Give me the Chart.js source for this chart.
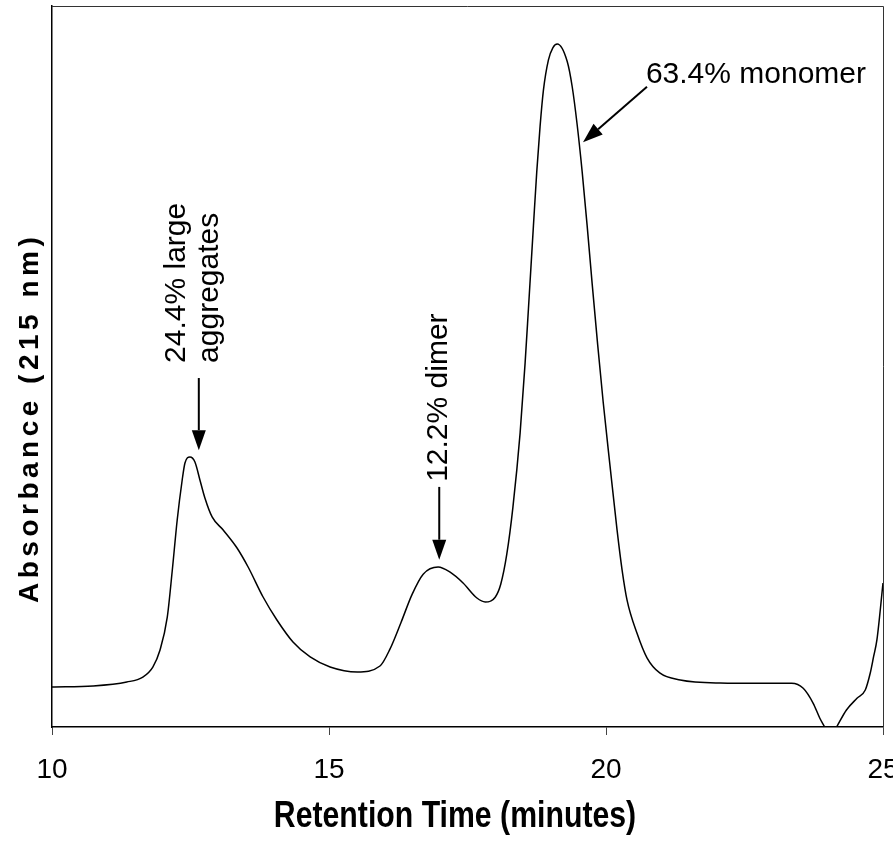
<!DOCTYPE html>
<html>
<head>
<meta charset="utf-8">
<title>SEC chromatogram</title>
<script src="https://cdn.jsdelivr.net/npm/chart.js@4.4.0/dist/chart.umd.min.js"></script>
<style>
  html, body { margin: 0; padding: 0; background: #fff; }
  canvas { display: block; }
</style>
</head>
<body>
<canvas id="chromatogram" width="893" height="849"></canvas>
<script>
// ---------------------------------------------------------------------------
// data (absorbance in arbitrary units, 0..100 = plot height)
// ---------------------------------------------------------------------------
const retentionTime = [
  10.00, 10.74, 11.35, 11.64, 11.82, 11.95, 12.08, 12.17, 12.26, 12.35,
  12.40, 12.49, 12.58, 12.67, 12.76, 12.89, 13.09, 13.34, 13.54, 13.81,
  14.06, 14.35, 14.66, 15.02, 15.51, 15.92, 16.10, 16.30, 16.50, 16.70,
  16.97, 17.18, 17.42, 17.67, 17.82, 18.00, 18.10, 18.21, 18.32, 18.45,
  18.54, 18.60, 18.69, 18.75, 18.81, 18.87, 18.96, 19.04, 19.12, 19.30,
  19.39, 19.48, 19.57, 19.66, 19.75, 19.85, 19.95, 20.07, 20.20, 20.29,
  20.38, 20.56, 20.74, 20.97, 21.34, 22.06, 22.78, 23.35, 23.56, 23.74,
  23.86, 23.95, 24.05, 24.16, 24.34, 24.53, 24.68, 24.77, 24.83, 24.89,
  25.00
];
const absorbance = [
  5.55, 5.69, 6.24, 6.93, 8.32, 10.68, 15.20, 21.64, 28.71, 34.26,
  36.62, 37.45, 36.75, 34.26, 31.76, 29.13, 27.32, 24.83, 22.19, 18.03,
  14.84, 11.79, 9.71, 8.32, 7.63, 8.46, 10.80, 14.50, 18.40, 21.20,
  22.19, 21.50, 19.97, 17.89, 17.34, 18.00, 19.80, 24.00, 30.50, 40.80,
  50.50, 58.00, 69.50, 77.00, 83.30, 88.30, 92.50, 94.20, 94.73, 92.30,
  88.80, 83.50, 77.00, 69.50, 61.50, 53.00, 45.00, 36.40, 27.30, 21.80,
  17.60, 13.00, 9.60, 7.50, 6.52, 6.10, 6.06, 6.06, 5.37, 3.29,
  1.21, -0.04, -1.50, -0.04, 2.36, 3.98, 5.13, 7.49, 9.75, 12.07,
  19.97
];
const xTicks = [10, 15, 20, 25];
const peakNotes = [
  ['24.4% large', 'aggregates'],
  ['12.2% dimer'],
  ['63.4% monomer']
];
const xTitle = 'Retention Time (minutes)';
const yTitle = 'Absorbance (215 nm)';

// ---------------------------------------------------------------------------
// helpers
// ---------------------------------------------------------------------------
function fontAvailable(name) {
  const c = document.createElement('canvas').getContext('2d');
  const s = 'mmmmmwwwiiilll0123456789';
  c.font = '40px monospace';
  const a = c.measureText(s).width;
  c.font = '40px "' + name + '", monospace';
  return c.measureText(s).width !== a;
}

const SANS = '"Liberation Sans", Arial, Helvetica, sans-serif';
const NARROW = fontAvailable('Liberation Sans Narrow')
  ? '"Liberation Sans Narrow", ' + SANS
  : SANS;

// arrows + rotated peak labels, anchored in data coordinates
const annotatePlugin = {
  id: 'annotate',
  afterDatasetsDraw(chart, args, opts) {
    const { ctx, scales: { x, y } } = chart;
    ctx.save();
    ctx.fillStyle = '#000';
    ctx.strokeStyle = '#000';

    opts.arrows.forEach(a => {
      const x0 = x.getPixelForValue(a.from[0]), y0 = y.getPixelForValue(a.from[1]);
      const x1 = x.getPixelForValue(a.to[0]), y1 = y.getPixelForValue(a.to[1]);
      const ang = Math.atan2(y1 - y0, x1 - x0);
      const c = Math.cos(ang), s = Math.sin(ang);
      const bx = x1 - opts.headLength * c, by = y1 - opts.headLength * s;
      ctx.lineWidth = 2;
      ctx.beginPath();
      ctx.moveTo(x0, y0);
      ctx.lineTo(bx, by);
      ctx.stroke();
      ctx.beginPath();
      ctx.moveTo(x1, y1);
      ctx.lineTo(bx + opts.headHalf * s, by - opts.headHalf * c);
      ctx.lineTo(bx - opts.headHalf * s, by + opts.headHalf * c);
      ctx.closePath();
      ctx.fill();
    });

    ctx.font = opts.fontSize + 'px ' + SANS;
    ctx.textAlign = 'left';
    ctx.textBaseline = 'alphabetic';
    opts.labels.forEach((l, i) => {
      ctx.save();
      ctx.translate(x.getPixelForValue(l.at[0]), y.getPixelForValue(l.at[1]));
      ctx.rotate(l.rotation * Math.PI / 180);
      peakNotes[i].forEach((t, k) => ctx.fillText(t, 0, k * opts.lineGap));
      ctx.restore();
    });
    ctx.restore();
  }
};

// top/right frame lines and the two axis titles
const framePlugin = {
  id: 'frame',
  afterDraw(chart, args, opts) {
    const { ctx, chartArea: a } = chart;
    ctx.save();
    ctx.strokeStyle = '#333';
    ctx.lineWidth = 1;
    ctx.beginPath();
    ctx.moveTo(a.left, a.top + 0.5);
    ctx.lineTo(a.right + 0.5, a.top + 0.5);
    ctx.lineTo(a.right + 0.5, a.bottom);
    ctx.stroke();

    ctx.fillStyle = '#000';
    // x title: bold, horizontally condensed
    ctx.save();
    ctx.font = 'bold 36px ' + SANS;
    ctx.textAlign = 'center';
    ctx.textBaseline = 'alphabetic';
    ctx.translate(opts.xTitleAt[0], opts.xTitleAt[1]);
    ctx.scale(0.84, 1);
    ctx.fillText(xTitle, 0, 0);
    ctx.restore();

    // y title: bold, letter-spaced, reading bottom to top
    ctx.save();
    ctx.font = 'bold 28px ' + SANS;
    ctx.letterSpacing = '4.5px';
    ctx.textAlign = 'left';
    ctx.textBaseline = 'alphabetic';
    ctx.translate(opts.yTitleAt[0], opts.yTitleAt[1]);
    ctx.rotate(-Math.PI / 2);
    ctx.fillText(yTitle, 0, 0);
    ctx.restore();
    ctx.restore();
  }
};

// ---------------------------------------------------------------------------
// chart
// ---------------------------------------------------------------------------
new Chart(document.getElementById('chromatogram'), {
  type: 'line',
  data: {
    datasets: [{
      data: retentionTime.map((t, i) => ({ x: t, y: absorbance[i] })),
      borderColor: '#000',
      borderWidth: 1.5,
      pointRadius: 0,
      fill: false,
      cubicInterpolationMode: 'monotone'
    }]
  },
  options: {
    responsive: false,
    animation: false,
    layout: { padding: { top: 6, right: 10, left: 0, bottom: 0 } },
    plugins: {
      legend: { display: false },
      tooltip: { enabled: false },
      annotate: {
        fontSize: 30,
        lineGap: 33,
        headLength: 20,
        headHalf: 7,
        arrows: [
          { from: [12.65, 48.4], to: [12.65, 38.4] },
          { from: [16.99, 33.3], to: [16.99, 23.2] },
          { from: [20.74, 88.8], to: [19.585, 81.1] }
        ],
        labels: [
          { at: [12.40, 50.5], rotation: -90 },
          { at: [17.13, 34.0], rotation: -90 },
          { at: [20.72, 89.3], rotation: 0 }
        ]
      },
      frame: {
        xTitleAt: [455, 827],
        yTitleAt: [38, 603]
      }
    },
    scales: {
      x: {
        type: 'linear',
        min: 10,
        max: 25,
        afterBuildTicks: s => { s.ticks = xTicks.map(v => ({ value: v })); },
        afterFit: s => { s.height = 122; s.paddingLeft = 0; s.paddingRight = 0; },
        ticks: {
          color: '#000',
          font: { family: NARROW, size: 28 },
          padding: 18,
          maxRotation: 0,
          autoSkip: false
        },
        grid: {
          display: true,
          drawOnChartArea: false,
          drawTicks: true,
          tickLength: 8,
          color: '#444',
          lineWidth: 1
        },
        border: { display: true, color: '#000', width: 1.5 }
      },
      y: {
        type: 'linear',
        min: 0,
        max: 100,
        afterFit: s => { s.width = 52; s.paddingTop = 0; s.paddingBottom = 0; },
        ticks: { display: false },
        grid: { display: false },
        border: { display: true, color: '#000', width: 1.5 }
      }
    }
  },
  plugins: [annotatePlugin, framePlugin]
});
</script>
</body>
</html>
